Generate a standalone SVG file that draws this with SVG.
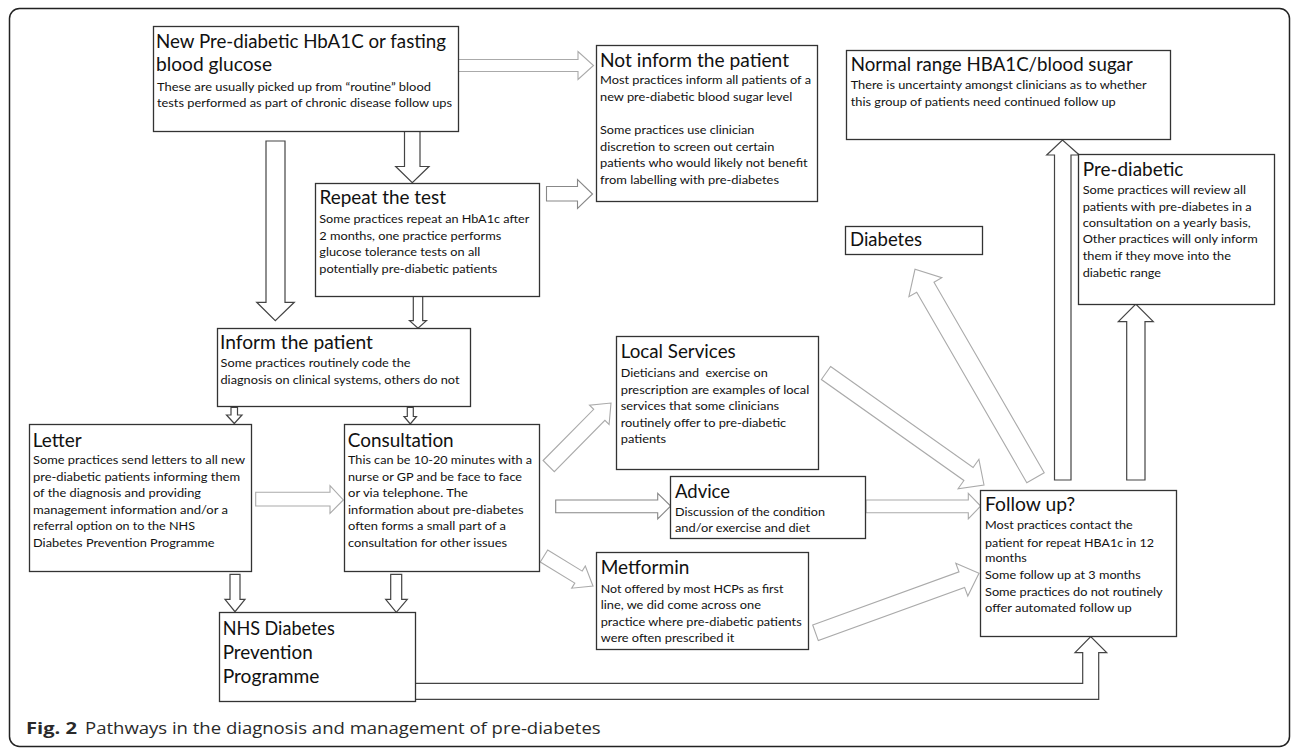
<svg xmlns="http://www.w3.org/2000/svg" width="1292" height="749" viewBox="0 0 1292 749">
<style>
.box{fill:#fff;stroke:#333;stroke-width:1.3}
.t{font-family:Lato,"Open Sans","Liberation Sans",sans-serif;font-size:18.5px;fill:#111}
.b{font-family:Lato,"Open Sans","Liberation Sans",sans-serif;font-size:12px;fill:#111}
.ad{fill:#fff;stroke:#444;stroke-width:1.2;stroke-linejoin:miter}
.am{fill:#fff;stroke:#888;stroke-width:1.1}
.al{fill:#fff;stroke:#aaa;stroke-width:1.1}
.cap{font-family:"Open Sans","Liberation Sans",sans-serif;font-size:16px;fill:#2a2a2a}
</style>
<rect x="9.5" y="8.5" width="1280" height="738" rx="10" fill="#fff" stroke="#222" stroke-width="1.5"/>

<g id="connectors">
<polygon class="al" points="458,59.5 578,59.5 578,51.5 593.5,65.5 578,79.5 578,71.5 458,71.5"/>
<polygon class="am" points="546.5,186.5 577.5,186.5 577.5,179.5 592.5,194 577.5,208.5 577.5,201 546.5,201"/>
<polygon class="ad" points="404.5,131 420,131 420,166.5 429,166.5 412.3,182.7 395.7,166.5 404.5,166.5"/>
<polygon class="ad" points="266,141 285,141 285,302.3 294.3,302.3 275.3,320.7 256.7,302.3 266,302.3"/>
<polygon class="ad" points="413.3,296.3 422.7,296.3 422.7,320.7 426.5,320.7 418,328.3 409.5,320.7 413.3,320.7"/>
<polygon class="ad" points="231,407.3 237.5,407.3 237.5,415 242,415 234.3,423.5 226.5,415 231,415"/>
<polygon class="ad" points="407.3,407.3 413.3,407.3 413.3,416.5 416.5,416.5 410.3,424 404,416.5 407.3,416.5"/>
<polygon class="al" points="255.7,492.3 330,492.3 330,485.7 343.3,500 330,513.3 330,506 255.7,506"/>
<polygon class="ad" points="230,574.3 240,574.3 240,599.3 245,599.3 235,611.7 225,599.3 230,599.3"/>
<polygon class="ad" points="390.7,574.3 401.7,574.3 401.7,599.3 407.3,599.3 396.3,612.3 385.7,599.3 390.7,599.3"/>
<polygon class="al" points="543.1,460.5 593.7,409.3 589.5,405.1 611,403 609.1,424.5 604.9,420.4 554.3,471.6"/>
<polygon class="am" points="555.7,500 657.7,500 657.7,493.3 670.7,506 657.7,519 657.7,512.7 555.7,512.7"/>
<polygon class="al" points="547.7,550 582.2,571.1 585.3,566 593,586 571.7,588.2 574.8,583.1 540.3,562"/>
<polygon class="al" points="830.6,366.5 973.1,467.5 978.9,459.3 984,485 958.1,488.7 963.9,480.5 821.4,379.5"/>
<polygon class="al" points="1044.2,472.7 934,282.2 941.8,277.7 915,269.3 908.9,296.7 916.7,292.2 1026.8,482.7"/>
<polygon class="al" points="866,500 968.3,500 968.3,493.3 980.7,506 968.3,519 968.3,512.7 866,512.7"/>
<polygon class="al" points="812.7,625 959,571.8 955.8,563.2 979,573.3 967.8,596 964.6,587.4 818.3,640.6"/>
<polygon class="ad" points="1054.5,480 1071,480 1071,155 1079.3,155 1062.5,140 1046.7,155 1054.5,155"/>
<polygon class="ad" points="1126.7,480 1145,480 1145,321.7 1153.3,321.7 1135.8,304 1118.3,321.7 1126.7,321.7"/>
<polygon class="ad" points="415,683.3 1082.7,683.3 1082.7,652.7 1075,652.7 1090.7,636.7 1106.7,652.7 1098.7,652.7 1098.7,699.3 415,699.3"/>
</g>

<g id="new-prediabetic">
<rect class="box" x="153.5" y="26.5" width="305" height="105"/>
<text class="t" x="156" y="47.7" textLength="290" lengthAdjust="spacingAndGlyphs">New Pre-diabetic HbA1C or fasting</text>
<text class="t" x="156" y="71" textLength="116" lengthAdjust="spacingAndGlyphs">blood glucose</text>
<text class="b" x="157" y="90.7" textLength="274" lengthAdjust="spacingAndGlyphs">These are usually picked up from “routine” blood</text>
<text class="b" x="157" y="106.7" textLength="295" lengthAdjust="spacingAndGlyphs">tests performed as part of chronic disease follow ups</text>
</g>

<g id="repeat-test">
<rect class="box" x="315.5" y="183.5" width="224" height="113"/>
<text class="t" x="319.5" y="204.3" textLength="126.5" lengthAdjust="spacingAndGlyphs">Repeat the test</text>
<text class="b" x="319.3" y="223.3" textLength="210" lengthAdjust="spacingAndGlyphs">Some practices repeat an HbA1c after</text>
<text class="b" x="319.3" y="240" textLength="182" lengthAdjust="spacingAndGlyphs">2 months, one practice performs</text>
<text class="b" x="319.3" y="256.3" textLength="161" lengthAdjust="spacingAndGlyphs">glucose tolerance tests on all</text>
<text class="b" x="319.3" y="273" textLength="178" lengthAdjust="spacingAndGlyphs">potentially pre-diabetic patients</text>
</g>

<g id="inform-patient">
<rect class="box" x="217.5" y="328.5" width="253" height="78"/>
<text class="t" x="220" y="349.3" textLength="153" lengthAdjust="spacingAndGlyphs">Inform the patient</text>
<text class="b" x="220.5" y="366.7" textLength="190" lengthAdjust="spacingAndGlyphs">Some practices routinely code the</text>
<text class="b" x="220.5" y="384" textLength="239" lengthAdjust="spacingAndGlyphs">diagnosis on clinical systems, others do not</text>
</g>

<g id="letter">
<rect class="box" x="29.5" y="424.5" width="222" height="147"/>
<text class="t" x="32.7" y="446.7" textLength="49" lengthAdjust="spacingAndGlyphs">Letter</text>
<text class="b" x="33" y="464.3" textLength="212" lengthAdjust="spacingAndGlyphs">Some practices send letters to all new</text>
<text class="b" x="33" y="481" textLength="207" lengthAdjust="spacingAndGlyphs">pre-diabetic patients informing them</text>
<text class="b" x="33" y="497.3" textLength="168" lengthAdjust="spacingAndGlyphs">of the diagnosis and providing</text>
<text class="b" x="33" y="513.7" textLength="195" lengthAdjust="spacingAndGlyphs">management information and/or a</text>
<text class="b" x="33" y="530" textLength="162" lengthAdjust="spacingAndGlyphs">referral option on to the NHS</text>
<text class="b" x="33" y="546.7" textLength="181.5" lengthAdjust="spacingAndGlyphs">Diabetes Prevention Programme</text>
</g>

<g id="consultation">
<rect class="box" x="344.5" y="424.5" width="195" height="147"/>
<text class="t" x="347.7" y="446.7" textLength="106" lengthAdjust="spacingAndGlyphs">Consultation</text>
<text class="b" x="348" y="464.3" textLength="184" lengthAdjust="spacingAndGlyphs">This can be 10-20 minutes with a</text>
<text class="b" x="348" y="481" textLength="174" lengthAdjust="spacingAndGlyphs">nurse or GP and be face to face</text>
<text class="b" x="348" y="497.3" textLength="120" lengthAdjust="spacingAndGlyphs">or via telephone. The</text>
<text class="b" x="348" y="513.7" textLength="175.5" lengthAdjust="spacingAndGlyphs">information about pre-diabetes</text>
<text class="b" x="348" y="530" textLength="158" lengthAdjust="spacingAndGlyphs">often forms a small part of a</text>
<text class="b" x="348" y="546.7" textLength="159" lengthAdjust="spacingAndGlyphs">consultation for other issues</text>
</g>

<g id="nhs-dpp">
<rect class="box" x="219.5" y="612.5" width="196" height="89"/>
<text class="t" x="222.7" y="635" textLength="112" lengthAdjust="spacingAndGlyphs">NHS Diabetes</text>
<text class="t" x="222.7" y="658.7" textLength="90" lengthAdjust="spacingAndGlyphs">Prevention</text>
<text class="t" x="222.7" y="682.7" textLength="96.7" lengthAdjust="spacingAndGlyphs">Programme</text>
</g>

<g id="not-inform">
<rect class="box" x="596.5" y="45.5" width="221" height="156"/>
<text class="t" x="600" y="66.7" textLength="189" lengthAdjust="spacingAndGlyphs">Not inform the patient</text>
<text class="b" x="600" y="84" textLength="211" lengthAdjust="spacingAndGlyphs">Most practices inform all patients of a</text>
<text class="b" x="600" y="100.7" textLength="192.3" lengthAdjust="spacingAndGlyphs">new pre-diabetic blood sugar level</text>
<text class="b" x="600" y="134.3" textLength="154.3" lengthAdjust="spacingAndGlyphs">Some practices use clinician</text>
<text class="b" x="600" y="150.7" textLength="174.3" lengthAdjust="spacingAndGlyphs">discretion to screen out certain</text>
<text class="b" x="600" y="167.3" textLength="207.7" lengthAdjust="spacingAndGlyphs">patients who would likely not benefit</text>
<text class="b" x="600" y="184" textLength="179" lengthAdjust="spacingAndGlyphs">from labelling with pre-diabetes</text>
</g>

<g id="normal-range">
<rect class="box" x="846.5" y="50.5" width="324" height="89"/>
<text class="t" x="850.7" y="70.7" textLength="282" lengthAdjust="spacingAndGlyphs">Normal range HBA1C/blood sugar</text>
<text class="b" x="850.7" y="89.3" textLength="296" lengthAdjust="spacingAndGlyphs">There is uncertainty amongst clinicians as to whether</text>
<text class="b" x="850.7" y="106" textLength="265" lengthAdjust="spacingAndGlyphs">this group of patients need continued follow up</text>
</g>

<g id="diabetes">
<rect class="box" x="845.5" y="226.5" width="137" height="28"/>
<text class="t" x="850" y="246" textLength="72" lengthAdjust="spacingAndGlyphs">Diabetes</text>
</g>

<g id="pre-diabetic">
<rect class="box" x="1078.5" y="154.5" width="196" height="150"/>
<text class="t" x="1082.7" y="176" textLength="100.7" lengthAdjust="spacingAndGlyphs">Pre-diabetic</text>
<text class="b" x="1082.7" y="194" textLength="163.3" lengthAdjust="spacingAndGlyphs">Some practices will review all</text>
<text class="b" x="1082.7" y="210.7" textLength="169" lengthAdjust="spacingAndGlyphs">patients with pre-diabetes in a</text>
<text class="b" x="1082.7" y="226.7" textLength="168" lengthAdjust="spacingAndGlyphs">consultation on a yearly basis,</text>
<text class="b" x="1082.7" y="243.3" textLength="175" lengthAdjust="spacingAndGlyphs">Other practices will only inform</text>
<text class="b" x="1082.7" y="260" textLength="148.3" lengthAdjust="spacingAndGlyphs">them if they move into the</text>
<text class="b" x="1082.7" y="276.7" textLength="78.3" lengthAdjust="spacingAndGlyphs">diabetic range</text>
</g>

<g id="local-services">
<rect class="box" x="616.5" y="336.5" width="202" height="133"/>
<text class="t" x="620.7" y="358.3" textLength="115" lengthAdjust="spacingAndGlyphs">Local Services</text>
<text class="b" x="620.7" y="377.3" textLength="147" lengthAdjust="spacingAndGlyphs">Dieticians and&#160; exercise on</text>
<text class="b" x="620.7" y="394" textLength="188.5" lengthAdjust="spacingAndGlyphs">prescription are examples of local</text>
<text class="b" x="620.7" y="410" textLength="158.5" lengthAdjust="spacingAndGlyphs">services that some clinicians</text>
<text class="b" x="620.7" y="426.7" textLength="165.5" lengthAdjust="spacingAndGlyphs">routinely offer to pre-diabetic</text>
<text class="b" x="620.7" y="443.3" textLength="45.5" lengthAdjust="spacingAndGlyphs">patients</text>
</g>

<g id="advice">
<rect class="box" x="670.5" y="476.5" width="195" height="62"/>
<text class="t" x="675" y="497.7" textLength="55" lengthAdjust="spacingAndGlyphs">Advice</text>
<text class="b" x="675" y="515.7" textLength="150" lengthAdjust="spacingAndGlyphs">Discussion of the condition</text>
<text class="b" x="675" y="532.3" textLength="135" lengthAdjust="spacingAndGlyphs">and/or exercise and diet</text>
</g>

<g id="metformin">
<rect class="box" x="596.5" y="552.5" width="212" height="97"/>
<text class="t" x="600.7" y="574" textLength="88.7" lengthAdjust="spacingAndGlyphs">Metformin</text>
<text class="b" x="600.7" y="592.7" textLength="182.7" lengthAdjust="spacingAndGlyphs">Not offered by most HCPs as first</text>
<text class="b" x="600.7" y="609.3" textLength="160.3" lengthAdjust="spacingAndGlyphs">line, we did come across one</text>
<text class="b" x="600.7" y="625.7" textLength="201" lengthAdjust="spacingAndGlyphs">practice where pre-diabetic patients</text>
<text class="b" x="600.7" y="642.3" textLength="133.7" lengthAdjust="spacingAndGlyphs">were often prescribed it</text>
</g>

<g id="follow-up">
<rect class="box" x="980.5" y="490.5" width="196" height="146"/>
<text class="t" x="985" y="511" textLength="90" lengthAdjust="spacingAndGlyphs">Follow up?</text>
<text class="b" x="985" y="529.3" textLength="147.7" lengthAdjust="spacingAndGlyphs">Most practices contact the</text>
<text class="b" x="985" y="546.7" textLength="169" lengthAdjust="spacingAndGlyphs">patient for repeat HBA1c in 12</text>
<text class="b" x="985" y="562.3" textLength="41.7" lengthAdjust="spacingAndGlyphs">months</text>
<text class="b" x="985" y="579" textLength="155.7" lengthAdjust="spacingAndGlyphs">Some follow up at 3 months</text>
<text class="b" x="985" y="596" textLength="177.7" lengthAdjust="spacingAndGlyphs">Some practices do not routinely</text>
<text class="b" x="985" y="612.3" textLength="146.7" lengthAdjust="spacingAndGlyphs">offer automated follow up</text>
</g>

<g id="caption">
<text class="cap" x="26" y="734" font-weight="bold" textLength="51" lengthAdjust="spacingAndGlyphs">Fig. 2</text>
<text class="cap" x="85" y="734" textLength="515.7" lengthAdjust="spacingAndGlyphs">Pathways in the diagnosis and management of pre-diabetes</text>
</g>
</svg>
